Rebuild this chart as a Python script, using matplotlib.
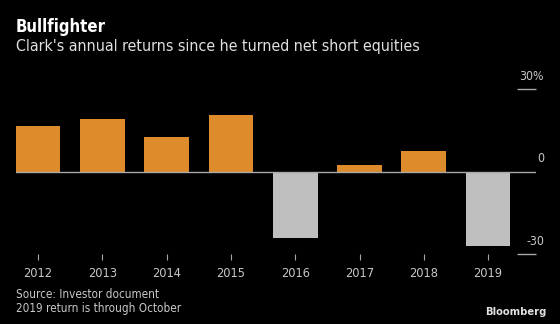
import numpy as np
import matplotlib.pyplot as plt

years = ["2012", "2013", "2014", "2015", "2016", "2017", "2018", "2019"]
returns = [16.4, 19.2, 12.6, 20.5, -24.0, 2.2, 7.5, -27.2]
yticks = [30, 0, -30]
ytick_labels = ["30%", "0", "-30"]

orange = "#de8b2b"
grey = "#bfbfbf"
plt.rcParams["font.family"] = ["DejaVu Sans"]
plt.rcParams["font.stretch"] = "condensed"

fig = plt.figure(figsize=(5.6, 3.24), dpi=100, facecolor="black")
ax = fig.add_axes([15.7 / 560, 1 - 254 / 324, (536.4 - 15.7) / 560, 165 / 324])
ax.set_facecolor("black")

x = np.arange(len(years))
colors = [orange if v >= 0 else grey for v in returns]
ax.bar(x, returns, width=0.694, color=colors, zorder=2)
ax.axhline(0, color="#a8a8a8", linewidth=1, zorder=3)

ax.set_xlim(-0.347, 7.751)
ax.set_ylim(-30, 30)

for s in ax.spines.values():
    s.set_visible(False)
ax.set_yticks([])
ax.set_xticks(x)
ax.set_xticklabels(years, color="#c8c8c8", fontsize=9.2)
ax.tick_params(axis="x", length=4, color="#a8a8a8", width=0.8, pad=5.5)

# right-side value labels with short marks
for v, lab in zip(yticks, ytick_labels):
    if v != 0:
        ax.hlines(v, 7.449, 7.751, color="#a8a8a8", linewidth=1, clip_on=False)
    ax.annotate(lab, xy=(1, v), xycoords=("axes fraction", "data"),
                xytext=(5.5, 4.5), textcoords="offset points",
                ha="right", va="bottom", color="#c8c8c8", fontsize=8.8)

fig.text(16 / 560, 1 - 27 / 324, "Bullfighter", color="white", fontsize=12,
         fontweight="bold", va="center", ha="left")
fig.text(16 / 560, 1 - 46 / 324, "Clark's annual returns since he turned net short equities",
         color="#e0e0e0", fontsize=11.4, va="center", ha="left")
fig.text(16 / 560, 1 - 295 / 324, "Source: Investor document", color="#c8c8c8",
         fontsize=8.4, va="center", ha="left")
fig.text(16 / 560, 1 - 308.5 / 324, "2019 return is through October", color="#c8c8c8",
         fontsize=8.4, va="center", ha="left")
fig.text(547 / 560, 1 - 312 / 324, "Bloomberg", color="#e0e0e0", fontsize=8,
         fontweight="bold", va="center", ha="right")

fig.savefig("out.png", dpi=100, facecolor="black")
